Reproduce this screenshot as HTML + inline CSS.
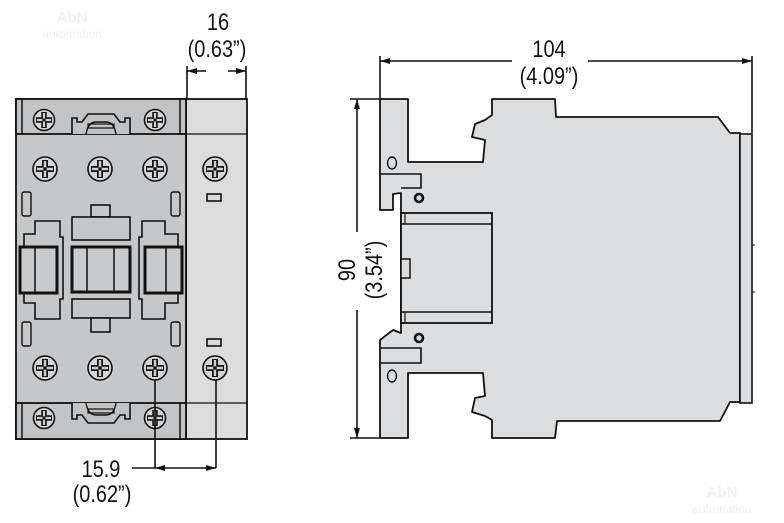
<!DOCTYPE html>
<html><head><meta charset="utf-8"><style>
html,body{margin:0;padding:0;background:#fff;}
svg{display:block;}
text{font-family:"Liberation Sans",sans-serif;fill:#111;}
</style></head><body>
<svg width="784" height="523" viewBox="0 0 784 523" xmlns="http://www.w3.org/2000/svg">
<defs>
<g id="scr">
<circle r="12" fill="#d4d5d7" stroke="#111" stroke-width="1.6"/>
<path d="M-9 0H9M0 -9V9" stroke="#111" stroke-width="6"/>
<path d="M-8 0H8M0 -8V8" stroke="#cfd0d2" stroke-width="2.5"/>
<circle r="1.8" fill="#111"/>
</g>
<g id="scrs">
<circle r="10.5" fill="#d4d5d7" stroke="#111" stroke-width="1.6"/>
<path d="M-8 0H8M0 -8V8" stroke="#111" stroke-width="5.5"/>
<path d="M-7 0H7M0 -7V7" stroke="#cfd0d2" stroke-width="2.2"/>
<circle r="1.6" fill="#111"/>
</g>
<marker id="ar" viewBox="0 0 10 6" refX="10" refY="3" markerWidth="10" markerHeight="6" orient="auto-start-reverse" markerUnits="userSpaceOnUse"><path d="M0 0L10 3L0 6Z" fill="#111"/></marker>
</defs>

<!-- watermark -->
<text x="72" y="22" font-size="15" font-weight="bold" style="fill:#f1f1f1" text-anchor="middle">AbN</text>
<text x="72" y="38" font-size="12" style="fill:#f1f1f1" text-anchor="middle">automation</text>
<text x="722" y="497" font-size="15" font-weight="bold" style="fill:#f1f1f1" text-anchor="middle">AbN</text>
<text x="722" y="513" font-size="12" style="fill:#f1f1f1" text-anchor="middle">automation</text>

<!-- LEFT VIEW -->
<rect x="186" y="99" width="61" height="340" fill="#dcdcdd" stroke="#111" stroke-width="1.8"/>
<line x1="186" y1="134" x2="247" y2="134" stroke="#111" stroke-width="1.2"/>
<line x1="186" y1="403" x2="247" y2="403" stroke="#111" stroke-width="1.2"/>
<rect x="16" y="99" width="170" height="340" fill="#c6c7c9" stroke="#111" stroke-width="1.8"/>
<rect x="16" y="99" width="170" height="35" fill="#c2c3c5" stroke="#111" stroke-width="1.8"/>
<rect x="16" y="403" width="170" height="36" fill="#c2c3c5" stroke="#111" stroke-width="1.8"/>
<line x1="22" y1="99" x2="22" y2="134" stroke="#111" stroke-width="1.5"/>
<line x1="180" y1="99" x2="180" y2="134" stroke="#111" stroke-width="1.5"/>
<line x1="22" y1="403" x2="22" y2="439" stroke="#111" stroke-width="1.5"/>
<line x1="180" y1="403" x2="180" y2="439" stroke="#111" stroke-width="1.5"/>
<!-- clips -->
<path d="M72 134V118H77V122H82L88 114H114L120 122H125V118H130V134" fill="#c2c3c5" stroke="#111" stroke-width="1.6"/>
<path d="M86 134Q88 122 96 122H106Q114 122 116 134" fill="none" stroke="#111" stroke-width="1.4"/>
<rect x="88" y="124" width="26" height="4" fill="none" stroke="#111" stroke-width="1.2"/>
<path d="M72 403V419H77V415H82L88 423H114L120 415H125V419H130V403" fill="#c2c3c5" stroke="#111" stroke-width="1.6"/>
<path d="M86 403Q88 415 96 415H106Q114 415 116 403" fill="none" stroke="#111" stroke-width="1.4"/>
<rect x="88" y="409" width="26" height="4" fill="none" stroke="#111" stroke-width="1.2"/>
<use href="#scrs" x="44" y="120"/><use href="#scrs" x="155" y="120"/>
<use href="#scrs" x="44" y="418"/><use href="#scrs" x="155" y="418"/>
<use href="#scr" x="45" y="169"/><use href="#scr" x="100" y="169"/><use href="#scr" x="155" y="169"/>
<use href="#scr" x="45" y="368"/><use href="#scr" x="100" y="368"/><use href="#scr" x="155" y="368"/>
<use href="#scr" x="215" y="169"/><use href="#scr" x="215" y="368"/>
<rect x="207" y="194" width="14" height="7" fill="#d8d8d9" stroke="#111" stroke-width="1.6"/>
<rect x="207" y="339" width="14" height="7" fill="#d8d8d9" stroke="#111" stroke-width="1.6"/>
<!-- side slots -->
<rect x="22" y="192" width="9" height="24" rx="2" fill="none" stroke="#111" stroke-width="1.4"/>
<rect x="171" y="192" width="9" height="24" rx="2" fill="none" stroke="#111" stroke-width="1.4"/>
<rect x="22" y="322" width="9" height="24" rx="2" fill="none" stroke="#111" stroke-width="1.4"/>
<rect x="171" y="322" width="9" height="24" rx="2" fill="none" stroke="#111" stroke-width="1.4"/>
<!-- center -->
<rect x="91" y="205" width="19" height="12" fill="#c6c7c9" stroke="#111" stroke-width="1.6"/>
<rect x="72" y="217" width="58" height="23" fill="#c6c7c9" stroke="#111" stroke-width="1.6"/>
<rect x="72" y="247" width="58" height="45" fill="#c9cacc" stroke="#111" stroke-width="3"/>
<line x1="87" y1="247" x2="87" y2="292" stroke="#111" stroke-width="1.5"/>
<line x1="114" y1="247" x2="114" y2="292" stroke="#111" stroke-width="1.5"/>
<rect x="72" y="299" width="58" height="19" fill="#c6c7c9" stroke="#111" stroke-width="1.6"/>
<rect x="91" y="318" width="19" height="14" fill="#c6c7c9" stroke="#111" stroke-width="1.6"/>
<!-- side modules -->
<path d="M35 221H60V237H63V299H60V319H35V303H24V234H35Z" fill="#c6c7c9" stroke="#111" stroke-width="1.6"/>
<rect x="20" y="247" width="37" height="46" fill="#c9cacc" stroke="#111" stroke-width="3"/>
<line x1="35" y1="247" x2="35" y2="293" stroke="#111" stroke-width="1.5"/>
<path d="M142 221H165V234H178V303H165V319H142V299H139V237H142Z" fill="#c6c7c9" stroke="#111" stroke-width="1.6"/>
<rect x="145" y="247" width="37" height="46" fill="#c9cacc" stroke="#111" stroke-width="3"/>
<line x1="166" y1="247" x2="166" y2="293" stroke="#111" stroke-width="1.5"/>

<!-- dims left -->
<line x1="187" y1="66" x2="187" y2="99" stroke="#111" stroke-width="1.6"/>
<line x1="246" y1="66" x2="246" y2="99" stroke="#111" stroke-width="1.6"/>
<line x1="187" y1="71" x2="206" y2="71" stroke="#111" stroke-width="1.6" marker-start="url(#ar)"/>
<line x1="228" y1="71" x2="246" y2="71" stroke="#111" stroke-width="1.6" marker-end="url(#ar)"/>
<text transform="translate(218,30) scale(0.83,1)" font-size="24" text-anchor="middle">16</text>
<text transform="translate(217,57) scale(0.83,1)" font-size="24" text-anchor="middle">(0.63”)</text>

<line x1="155" y1="380" x2="155" y2="468" stroke="#111" stroke-width="1.6"/>
<line x1="216" y1="380" x2="216" y2="468" stroke="#111" stroke-width="1.6"/>
<line x1="132" y1="468" x2="216" y2="468" stroke="#111" stroke-width="1.6"/>
<path d="M155 468l10 -3v6z M216 468l-10 -3v6z" fill="#111"/>
<text transform="translate(101,477) scale(0.83,1)" font-size="24" text-anchor="middle">15.9</text>
<text transform="translate(102,502) scale(0.83,1)" font-size="24" text-anchor="middle">(0.62”)</text>

<!-- RIGHT VIEW -->
<path d="M380 99H408V162H483L485 140L472 137L475 124L485 120L492 115V99H555L556 117H718L730 133H740V402H730L720 421H557L555 438H492V420L485 416L472 412L475 398L485 396L483 373H408V438H380V340L393 330L401 333V193L393 194L393 210H380Z" fill="#dcdddf" stroke="#111" stroke-width="1.8" stroke-linejoin="round"/>
<rect x="740" y="134" width="12" height="269" fill="#dcdddf" stroke="#111" stroke-width="1.6"/>
<line x1="752" y1="245" x2="755" y2="245" stroke="#111"/>
<line x1="752" y1="292" x2="755" y2="292" stroke="#111"/>
<rect x="401" y="213" width="91" height="110" fill="#dcdddf" stroke="#111" stroke-width="1.8"/>
<line x1="401" y1="224" x2="492" y2="224" stroke="#111" stroke-width="1.5"/>
<line x1="401" y1="312" x2="492" y2="312" stroke="#111" stroke-width="1.5"/>
<line x1="405" y1="213" x2="405" y2="224" stroke="#111" stroke-width="1.2"/>
<line x1="405" y1="312" x2="405" y2="323" stroke="#111" stroke-width="1.2"/>
<rect x="401" y="259" width="9" height="19" fill="#dcdddf" stroke="#111" stroke-width="1.5"/>
<path d="M380 174H421V188H401" fill="none" stroke="#111" stroke-width="1.6"/>
<path d="M380 348H421V363H380" fill="none" stroke="#111" stroke-width="1.6"/>
<ellipse cx="392" cy="163" rx="4.5" ry="6" fill="none" stroke="#111" stroke-width="1.4"/>
<ellipse cx="392" cy="376" rx="4.5" ry="6" fill="none" stroke="#111" stroke-width="1.4"/>
<circle cx="419" cy="198" r="4" fill="none" stroke="#111" stroke-width="2.6"/>
<circle cx="419" cy="338" r="4" fill="none" stroke="#111" stroke-width="2.6"/>

<!-- dims right -->
<line x1="380" y1="56" x2="380" y2="99" stroke="#111" stroke-width="1.6"/>
<line x1="752" y1="56" x2="752" y2="133" stroke="#111" stroke-width="1.6"/>
<line x1="380" y1="61" x2="512" y2="61" stroke="#111" stroke-width="1.6" marker-start="url(#ar)"/>
<line x1="588" y1="61" x2="752" y2="61" stroke="#111" stroke-width="1.6" marker-end="url(#ar)"/>
<text transform="translate(549,57) scale(0.83,1)" font-size="24" text-anchor="middle">104</text>
<text transform="translate(549,84) scale(0.83,1)" font-size="24" text-anchor="middle">(4.09”)</text>
<line x1="350" y1="99" x2="380" y2="99" stroke="#111" stroke-width="1.6"/>
<line x1="350" y1="438" x2="380" y2="438" stroke="#111" stroke-width="1.6"/>
<line x1="357" y1="99" x2="357" y2="232" stroke="#111" stroke-width="1.6" marker-start="url(#ar)"/>
<line x1="357" y1="310" x2="357" y2="438" stroke="#111" stroke-width="1.6" marker-end="url(#ar)"/>
<text transform="translate(355,270) rotate(-90) scale(0.83,1)" font-size="24" text-anchor="middle">90</text>
<text transform="translate(382,270) rotate(-90) scale(0.83,1)" font-size="24" text-anchor="middle">(3.54”)</text>
</svg>
</body></html>
